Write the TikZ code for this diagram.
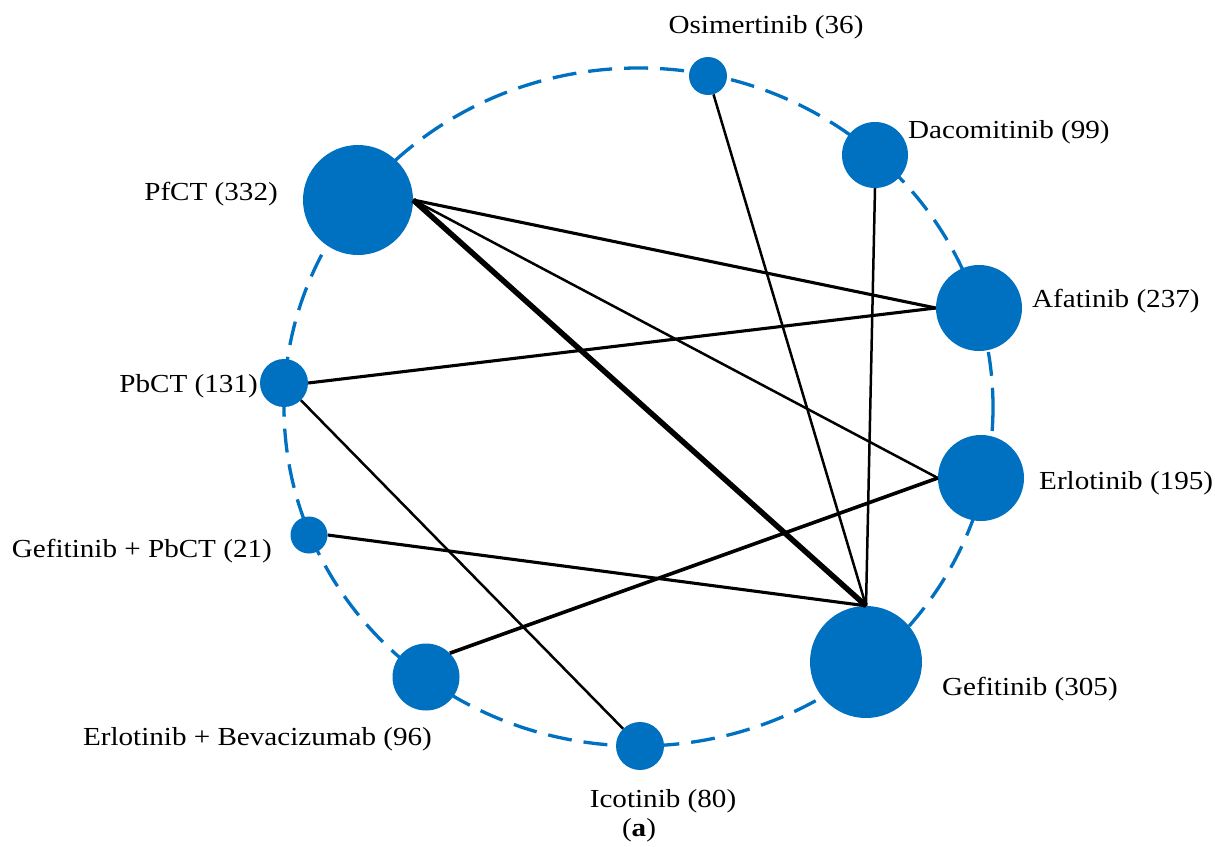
\documentclass[tikz,border=0pt]{standalone}
\usepackage{fontspec}
\setmainfont{Liberation Serif}[FakeStretch=1.12]
\definecolor{netblue}{RGB}{0,112,192}
\begin{document}
\begin{tikzpicture}[x=1pt,y=-1pt,
  trt/.style={circle,fill=netblue,inner sep=0pt,minimum size=#1},
  lab/.style={font=\fontsize{26}{30}\selectfont,inner sep=0pt},
  ring/.style={draw=netblue,line width=3.3pt,dash pattern=on 24pt off 12pt},
  thinedge/.style={draw=black,line width=2.5pt},
  midedge/.style={draw=black,line width=3.1pt},
  thickedge/.style={draw=black,line width=5.5pt}]
\useasboundingbox (0,0) rectangle (1215,846);
% ring
\draw[ring] (638.5,407) ellipse [x radius=354.5, y radius=339];
% treatment nodes
\node[trt=38pt]  (osi)  at (708,76)  {};
\node[trt=66pt]  (dac)  at (875,155) {};
\node[trt=86pt]  (afa)  at (979,308) {};
\node[trt=86pt]  (erl)  at (981,478) {};
\node[trt=112pt] (gef)  at (866,662) {};
\node[trt=48pt]  (ico)  at (640,746) {};
\node[trt=67pt]  (eb)   at (426,677) {};
\node[trt=37pt]  (gp)   at (309,535) {};
\node[trt=48pt]  (pbct) at (284,383) {};
\node[trt=110pt] (pfct) at (358,200) {};
% labels
\node[lab,anchor=base]      (losi)  at (766,33)   {Osimertinib (36)};
\node[lab,anchor=base west] (ldac)  at (908,138)  {Dacomitinib (99)};
\node[lab,anchor=base west] (lafa)  at (1032,307) {Afatinib (237)};
\node[lab,anchor=base west] (lerl)  at (1039,489) {Erlotinib (195)};
\node[lab,anchor=base west] (lgef)  at (942,695)  {Gefitinib (305)};
\node[lab,anchor=base]      (lico)  at (663,807)  {Icotinib (80)};
\node[lab,anchor=base east] (leb)   at (432,745)  {Erlotinib + Bevacizumab (96)};
\node[lab,anchor=base east] (lgp)   at (272,557)  {Gefitinib + PbCT (21)};
\node[lab,anchor=base east] (lpbct) at (258,392)  {PbCT (131)};
\node[lab,anchor=base east] (lpfct) at (278,200)  {PfCT (332)};
\node[lab,anchor=base]      (cap)   at (639,836)  {(\textbf{a})};
% edges
\draw[thickedge] (pfct.east) -- (gef.north);
\draw[midedge]   (pfct.east) -- (afa.west);
\draw[thinedge]  (pfct.east) -- (erl.west);
\draw[midedge]   (pbct.east) -- (afa.west);
\draw[thinedge]  (pbct) -- (ico);
\draw[midedge]   (gp.east) -- (gef.north);
\draw[midedge,line width=3.6pt] (eb.north east) -- (erl.west);
\draw[thinedge]  (osi) -- (gef.north);
\draw[thinedge]  (dac.south) -- (gef.north);
\end{tikzpicture}
\end{document}
